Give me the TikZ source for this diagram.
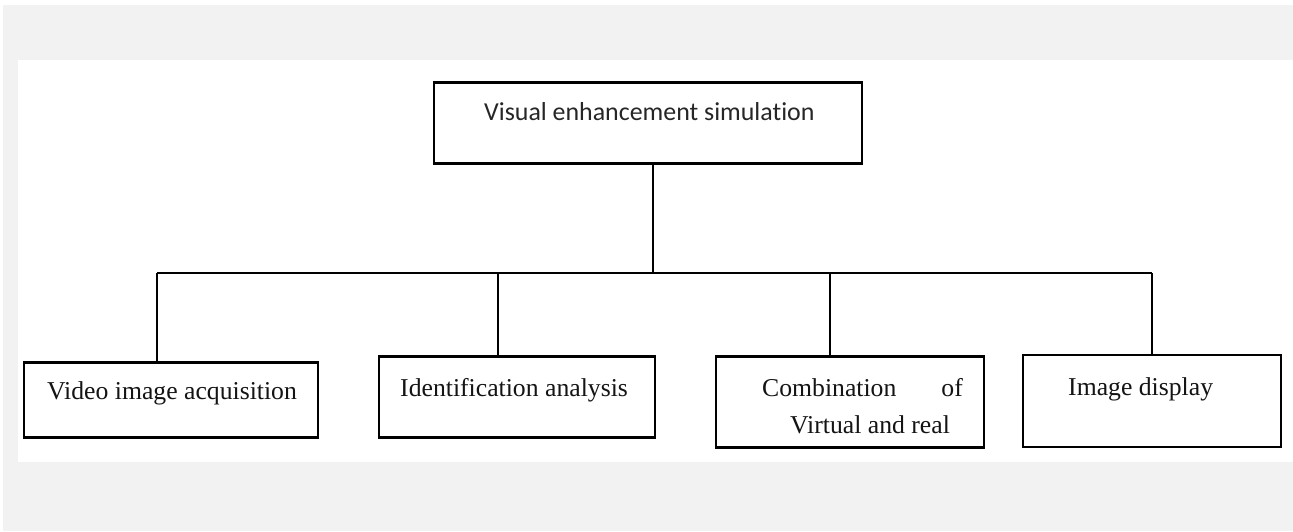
\documentclass[tikz,border=0pt]{standalone}
\usepackage{fontspec}
\setmainfont{Liberation Serif}
\newfontfamily\calib[Ligatures=NoCommon]{Carlito}
\begin{document}
\begin{tikzpicture}[x=1pt,y=-1pt,
  box/.style={draw=black,line width=2.5pt,fill=white,inner sep=0pt},
  conn/.style={draw=black,line width=2pt},
  tlbl/.style={anchor=base west,inner sep=0pt,font=\fontsize{25.7}{30}\selectfont,text=black!92},
  clbl/.style={anchor=base west,inner sep=0pt,font=\calib\fontsize{25.9}{30}\selectfont,text=black!85}]
\useasboundingbox (0,0) rectangle (1293,531);
\fill[white] (0,0) rectangle (1293,531);
\fill[black!5] (3,5) rectangle (1293,531);
\fill[white] (18,60) rectangle (1293,462);
% boxes
\node[box,minimum width=428pt,minimum height=81pt] (top) at (648,123) {};
\node[box,minimum width=294pt,minimum height=75pt] (b1) at (171,400) {};
\node[box,minimum width=276pt,minimum height=81pt] (b2) at (517,397) {};
\node[box,minimum width=268pt,minimum height=91pt] (b3) at (850,402) {};
\node[box,minimum width=258pt,minimum height=92pt] (b4) at (1152,401) {};
% labels
\node[clbl] (ttop) at (484,120) {Visual enhancement simulation};
\node[tlbl] (t1) at (47,399) {Video image acquisition};
\node[tlbl] (t2) at (400,396) {Identification analysis};
\node[tlbl] (t3a) at (762,396) {Combination};
\node[tlbl,anchor=base east] (t3b) at (963,396) {of};
\node[tlbl] (t3c) at (790,433) {Virtual and real};
\node[tlbl] (t4) at (1068,395) {Image display};
% connectors
\coordinate (hl) at (653,273);
\coordinate (d1) at (157,273);
\coordinate (d2) at (498,273);
\coordinate (d3) at (830,273);
\coordinate (d4) at (1152,273);
\draw[conn] (top.south -| hl) -- (hl);
\draw[conn] (d1) -- (d4);
\draw[conn] (d1) -- (d1 |- b1.north);
\draw[conn] (d2) -- (d2 |- b2.north);
\draw[conn] (d3) -- (d3 |- b3.north);
\draw[conn] (d4) -- (d4 |- b4.north);
\end{tikzpicture}
\end{document}
